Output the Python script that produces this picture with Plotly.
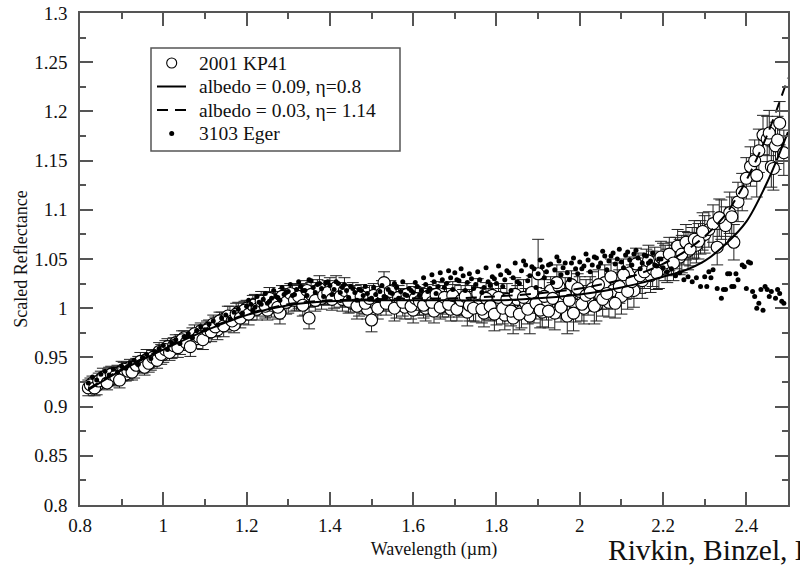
import plotly.graph_objects as go

# ---------------- data ----------------
kp41_wavelength = [
    0.82, 0.83, 0.84, 0.85, 0.86, 0.87, 0.88, 0.89, 0.90, 0.91,
    0.92, 0.93, 0.94, 0.95, 0.96, 0.97, 0.98, 0.99, 1.00, 1.01,
    1.02, 1.03, 1.04, 1.05, 1.06, 1.07, 1.08, 1.09, 1.10, 1.11,
    1.12, 1.13, 1.14, 1.15, 1.16, 1.17, 1.18, 1.19, 1.20, 1.21,
    1.22, 1.23, 1.24, 1.25, 1.26, 1.27, 1.28, 1.29, 1.30, 1.31,
    1.32, 1.33, 1.34, 1.35, 1.36, 1.37, 1.38, 1.39, 1.40, 1.41,
    1.42, 1.43, 1.44, 1.45, 1.46, 1.47, 1.48, 1.49, 1.50, 1.51,
    1.52, 1.53, 1.54, 1.55, 1.56, 1.57, 1.58, 1.59, 1.60, 1.61,
    1.62, 1.63, 1.64, 1.65, 1.66, 1.67, 1.68, 1.69, 1.70, 1.71,
    1.72, 1.73, 1.74, 1.75, 1.76, 1.77, 1.78, 1.79, 1.80, 1.81,
    1.82, 1.83, 1.84, 1.85, 1.86, 1.87, 1.88, 1.89, 1.90, 1.91,
    1.92, 1.93, 1.94, 1.95, 1.96, 1.97, 1.98, 1.99, 2.00, 2.01,
    2.02, 2.03, 2.04, 2.05, 2.06, 2.07, 2.08, 2.09, 2.10, 2.11,
    2.12, 2.13, 2.14, 2.15, 2.16, 2.17, 2.18, 2.19, 2.20, 2.21,
    2.22, 2.23, 2.24, 2.25, 2.26, 2.27, 2.28, 2.29, 2.30, 2.31,
    2.32, 2.33, 2.34, 2.35, 2.36, 2.37, 2.38, 2.39, 2.40, 2.41,
    2.42, 2.43, 2.44, 2.45, 2.46, 2.47, 2.48, 2.49,
    2.335, 2.365, 2.425, 2.455, 2.465, 2.475,
    0.825, 0.835, 0.845, 0.855, 0.865, 0.875, 0.885, 0.895, 0.905, 0.915,
    0.925, 0.935, 0.945, 0.955, 0.965, 0.975, 0.985, 0.995, 1.005, 1.015,
    1.025, 1.035, 1.045, 1.055, 1.065, 1.075, 1.085, 1.095, 1.105, 1.115,
    1.125, 1.135, 1.145, 1.155, 1.165, 1.175, 1.185, 1.195, 1.205, 1.215,
    1.225, 1.235, 1.245, 1.255, 1.265, 1.275, 1.285, 1.295, 1.305, 1.315,
    1.325, 1.335, 1.345, 1.355, 1.365, 1.375, 1.385, 1.395, 1.405, 1.415,
    1.425, 1.435, 1.445, 1.455, 1.465, 1.475, 1.485, 1.495, 1.505, 1.515,
    1.525, 1.535, 1.545, 1.555, 1.565, 1.575, 1.585, 1.595, 1.605, 1.615,
    1.625, 1.635, 1.645, 1.655, 1.665, 1.675, 1.685, 1.695, 1.705, 1.715,
    1.725, 1.735, 1.745, 1.755, 1.765, 1.775, 1.785, 1.795, 1.805, 1.815,
    1.825, 1.835, 1.845, 1.855, 1.865, 1.875, 1.885, 1.895, 1.905, 1.915,
    1.925, 1.935, 1.945, 1.955, 1.965, 1.975, 1.985, 1.995, 2.005, 2.015,
    2.025, 2.035, 2.045, 2.055, 2.065, 2.075, 2.085, 2.095, 2.105, 2.115,
    2.125, 2.135, 2.145, 2.155, 2.165, 2.175, 2.185, 2.195, 2.205, 2.215,
    2.225, 2.235, 2.245, 2.255, 2.265, 2.275, 2.285, 2.295,
]
kp41_reflectance = [
    0.919, 0.924, 0.921, 0.928, 0.926, 0.931, 0.929, 0.934, 0.936, 0.933,
    0.940, 0.938, 0.944, 0.942, 0.948, 0.945, 0.951, 0.956, 0.953, 0.961,
    0.958, 0.965, 0.963, 0.970, 0.966, 0.972, 0.969, 0.977, 0.974, 0.980,
    0.984, 0.978, 0.988, 0.985, 0.991, 0.983, 0.996, 0.993, 1.000, 0.998,
    1.004, 1.001, 1.006, 0.998, 1.003, 1.008, 0.995, 1.010, 1.007, 1.013,
    1.009, 1.015, 1.005, 0.990, 1.012, 1.017, 1.010, 1.014, 1.019, 1.011,
    1.016, 1.009, 1.013, 1.006, 1.011, 1.003, 1.008, 0.999, 0.988, 1.004,
    1.010, 1.026, 1.007, 1.012, 1.003, 1.009, 1.001, 1.006, 0.998, 1.004,
    1.008, 1.000, 1.005, 0.997, 1.009, 1.002, 1.007, 0.999, 1.010, 1.003,
    1.006, 0.996, 1.011, 1.001, 1.008, 0.995, 1.004, 1.013, 0.998, 1.006,
    0.993, 1.002, 0.990, 1.009, 0.997, 1.005, 0.992, 1.001, 1.035, 0.996,
    1.004, 1.018, 0.995, 1.022, 1.006, 0.992, 1.024, 1.003, 1.017, 1.000,
    1.008, 1.020, 1.003, 1.013, 1.026, 1.006, 1.018, 1.030, 1.012, 1.024,
    1.036, 1.018, 1.041, 1.028, 1.044, 1.033, 1.047, 1.038, 1.050, 1.043,
    1.050, 1.056, 1.052, 1.061, 1.058, 1.066, 1.064, 1.072, 1.075, 1.080,
    1.086, 1.062, 1.090, 1.084, 1.097, 1.067, 1.108, 1.118, 1.132, 1.144,
    1.150, 1.160, 1.176, 1.172, 1.144, 1.165, 1.188, 1.158,
    1.092, 1.093, 1.135, 1.178, 1.142, 1.171,
    0.922, 0.919, 0.926, 0.930, 0.924, 0.933, 0.931, 0.927, 0.938, 0.936,
    0.935, 0.942, 0.946, 0.940, 0.944, 0.950, 0.947, 0.953, 0.958, 0.955,
    0.962, 0.960, 0.968, 0.965, 0.961, 0.974, 0.971, 0.968, 0.978, 0.976,
    0.981, 0.987, 0.982, 0.992, 0.987, 0.994, 0.990, 0.998, 0.994, 1.003,
    0.999, 1.007, 1.002, 1.010, 1.005, 1.001, 1.012, 1.006, 1.015, 1.008,
    1.012, 1.003, 1.018, 1.014, 1.008, 1.020, 1.013, 1.016, 1.009, 1.021,
    1.012, 1.018, 1.007, 1.015, 1.002, 1.012, 1.005, 1.010, 1.013, 1.000,
    1.015, 1.005, 1.017, 1.000, 1.011, 1.006, 1.014, 1.002, 1.010, 1.007,
    1.003, 1.012, 1.006, 1.014, 1.001, 1.011, 1.004, 1.013, 0.999, 1.008,
    1.012, 1.003, 1.000, 1.015, 0.999, 1.010, 1.002, 0.994, 1.011, 1.000,
    1.009, 0.997, 1.014, 0.994, 1.011, 0.999, 1.016, 1.005, 0.998, 1.012,
    0.997, 1.010, 1.026, 1.001, 1.014, 1.008, 0.995, 1.020, 1.004, 1.013,
    1.016, 1.002, 1.024, 1.009, 1.015, 1.032, 1.005, 1.022, 1.034, 1.017,
    1.027, 1.045, 1.033, 1.037, 1.048, 1.040, 1.036, 1.052, 1.046, 1.055,
    1.046, 1.063, 1.055, 1.067, 1.060, 1.070, 1.068, 1.078,
]
kp41_error = [
    0.008, 0.007, 0.009, 0.008, 0.007, 0.009, 0.008, 0.008, 0.010, 0.007,
    0.008, 0.009, 0.007, 0.008, 0.010, 0.008, 0.007, 0.009, 0.008, 0.008,
    0.009, 0.008, 0.010, 0.007, 0.009, 0.008, 0.010, 0.008, 0.009, 0.008,
    0.009, 0.010, 0.008, 0.009, 0.011, 0.008, 0.010, 0.009, 0.008, 0.010,
    0.010, 0.009, 0.011, 0.010, 0.012, 0.009, 0.011, 0.010, 0.012, 0.010,
    0.011, 0.010, 0.012, 0.011, 0.010, 0.012, 0.011, 0.010, 0.012, 0.011,
    0.010, 0.012, 0.011, 0.010, 0.012, 0.011, 0.013, 0.010, 0.012, 0.011,
    0.012, 0.011, 0.010, 0.012, 0.013, 0.011, 0.012, 0.010, 0.013, 0.011,
    0.012, 0.013, 0.011, 0.012, 0.014, 0.011, 0.013, 0.012, 0.014, 0.012,
    0.013, 0.014, 0.012, 0.015, 0.013, 0.014, 0.016, 0.012, 0.015, 0.014,
    0.015, 0.013, 0.016, 0.014, 0.017, 0.015, 0.018, 0.016, 0.035, 0.015,
    0.016, 0.014, 0.017, 0.015, 0.016, 0.018, 0.014, 0.017, 0.015, 0.016,
    0.015, 0.017, 0.016, 0.014, 0.018, 0.015, 0.017, 0.016, 0.018, 0.015,
    0.016, 0.017, 0.015, 0.018, 0.016, 0.017, 0.015, 0.018, 0.016, 0.017,
    0.017, 0.016, 0.018, 0.017, 0.019, 0.016, 0.018, 0.017, 0.019, 0.018,
    0.019, 0.018, 0.020, 0.019, 0.021, 0.018, 0.020, 0.019, 0.021, 0.020,
    0.021, 0.022, 0.020, 0.023, 0.021, 0.024, 0.022, 0.023,
    0.019, 0.020, 0.022, 0.023, 0.022, 0.024,
    0.007, 0.008, 0.008, 0.009, 0.007, 0.008, 0.009, 0.008, 0.007, 0.009,
    0.008, 0.007, 0.009, 0.008, 0.009, 0.007, 0.008, 0.010, 0.009, 0.008,
    0.008, 0.010, 0.009, 0.008, 0.010, 0.009, 0.008, 0.010, 0.009, 0.010,
    0.010, 0.009, 0.011, 0.010, 0.009, 0.011, 0.010, 0.009, 0.011, 0.010,
    0.011, 0.010, 0.012, 0.011, 0.010, 0.012, 0.011, 0.012, 0.010, 0.011,
    0.012, 0.011, 0.010, 0.012, 0.011, 0.013, 0.010, 0.012, 0.011, 0.012,
    0.011, 0.013, 0.012, 0.011, 0.013, 0.012, 0.011, 0.013, 0.012, 0.011,
    0.013, 0.012, 0.011, 0.013, 0.012, 0.014, 0.011, 0.013, 0.012, 0.014,
    0.013, 0.012, 0.014, 0.013, 0.012, 0.015, 0.013, 0.014, 0.012, 0.015,
    0.014, 0.016, 0.013, 0.015, 0.014, 0.016, 0.015, 0.017, 0.014, 0.016,
    0.016, 0.015, 0.017, 0.016, 0.018, 0.015, 0.017, 0.016, 0.018, 0.017,
    0.017, 0.016, 0.018, 0.015, 0.017, 0.016, 0.018, 0.015, 0.017, 0.016,
    0.016, 0.018, 0.015, 0.017, 0.016, 0.018, 0.015, 0.017, 0.016, 0.018,
    0.017, 0.016, 0.018, 0.017, 0.016, 0.018, 0.017, 0.016, 0.018, 0.017,
    0.018, 0.017, 0.019, 0.018, 0.017, 0.019, 0.018, 0.019,
]

eger_wavelength = [
    0.82, 0.83, 0.84, 0.85, 0.86, 0.87, 0.88, 0.89, 0.90, 0.91,
    0.92, 0.93, 0.94, 0.95, 0.96, 0.97, 0.98, 0.99, 1.00, 1.01,
    1.02, 1.03, 1.04, 1.05, 1.06, 1.07, 1.08, 1.09, 1.10, 1.11,
    1.12, 1.13, 1.14, 1.15, 1.16, 1.17, 1.18, 1.19, 1.20, 1.21,
    1.22, 1.23, 1.24, 1.25, 1.26, 1.27, 1.28, 1.29, 1.30, 1.31,
    1.32, 1.33, 1.34, 1.35, 1.36, 1.37, 1.38, 1.39, 1.40, 1.41,
    1.42, 1.43, 1.44, 1.45, 1.46, 1.47, 1.48, 1.49, 1.50, 1.51,
    1.52, 1.53, 1.54, 1.55, 1.56, 1.57, 1.58, 1.59, 1.60, 1.61,
    1.62, 1.63, 1.64, 1.65, 1.66, 1.67, 1.68, 1.69, 1.70, 1.71,
    1.72, 1.73, 1.74, 1.75, 1.76, 1.77, 1.78, 1.79, 1.80, 1.81,
    1.82, 1.83, 1.84, 1.85, 1.86, 1.87, 1.88, 1.89, 1.90, 1.91,
    1.92, 1.93, 1.94, 1.95, 1.96, 1.97, 1.98, 1.99, 2.00, 2.01,
    2.02, 2.03, 2.04, 2.05, 2.06, 2.07, 2.08, 2.09, 2.10, 2.11,
    2.12, 2.13, 2.14, 2.15, 2.16, 2.17, 2.18, 2.19, 2.20, 2.21,
    2.22, 2.23, 2.24, 2.25, 2.26, 2.27, 2.28, 2.29, 2.30, 2.31,
    2.32, 2.33, 2.34, 2.35, 2.36, 2.37, 2.38, 2.39, 2.40, 2.41,
    2.42, 2.43, 2.44, 2.45, 2.46, 2.47, 2.48, 2.49,
    2.305, 2.315, 2.345, 2.355, 2.365, 2.375, 2.395, 2.405, 2.415,
    2.425, 2.435, 2.445, 2.455, 2.475, 2.485,
    1.205, 1.215, 1.225, 1.235, 1.245, 1.255, 1.265, 1.275, 1.285, 1.295,
    1.305, 1.315, 1.325, 1.335, 1.345, 1.355, 1.365, 1.375, 1.385, 1.395,
    1.405, 1.415, 1.425, 1.435, 1.445, 1.455, 1.465, 1.475, 1.485, 1.495,
    1.505, 1.515, 1.525, 1.535, 1.545, 1.555, 1.565, 1.575, 1.585, 1.595,
    1.605, 1.615, 1.625, 1.635, 1.645, 1.655, 1.665, 1.675, 1.685, 1.695,
    1.705, 1.715, 1.725, 1.735, 1.745, 1.755, 1.765, 1.775, 1.785, 1.795,
    1.805, 1.815, 1.825, 1.835, 1.845, 1.855, 1.865, 1.875, 1.885, 1.895,
    1.905, 1.915, 1.925, 1.935, 1.945, 1.955, 1.965, 1.975, 1.985, 1.995,
    2.005, 2.015, 2.025, 2.035, 2.045, 2.055, 2.065, 2.075, 2.085, 2.095,
    2.105, 2.115, 2.125, 2.135, 2.145, 2.155, 2.165, 2.175, 2.185, 2.195,
]
eger_reflectance = [
    0.924, 0.930, 0.927, 0.933, 0.936, 0.932, 0.938, 0.935, 0.941, 0.939,
    0.944, 0.947, 0.943, 0.950, 0.953, 0.949, 0.956, 0.959, 0.962, 0.958,
    0.965, 0.968, 0.964, 0.971, 0.974, 0.970, 0.977, 0.981, 0.978, 0.984,
    0.987, 0.983, 0.990, 0.993, 0.989, 0.996, 0.999, 0.995, 1.002, 1.004,
    1.001, 1.006, 1.009, 1.005, 1.010, 1.012, 1.008, 1.014, 1.017, 1.013,
    1.019, 1.022, 1.018, 1.029, 1.021, 1.024, 1.020, 1.026, 1.023, 1.019,
    1.025, 1.021, 1.018, 1.022, 1.016, 1.019, 1.013, 1.015, 1.010, 1.014,
    1.017, 1.012, 1.019, 1.015, 1.021, 1.017, 1.014, 1.020, 1.016, 1.022,
    1.018, 1.024, 1.020, 1.027, 1.022, 1.029, 1.025, 1.031, 1.036, 1.028,
    1.033, 1.026, 1.030, 1.024, 1.029, 1.021, 1.027, 1.032, 1.025, 1.034,
    1.029, 1.036, 1.031, 1.027, 1.038, 1.044, 1.033, 1.040, 1.035, 1.042,
    1.037, 1.045, 1.039, 1.048, 1.041, 1.036, 1.046, 1.040, 1.047, 1.043,
    1.049, 1.044, 1.051, 1.046, 1.053, 1.048, 1.056, 1.050, 1.047, 1.054,
    1.049, 1.055, 1.051, 1.046, 1.053, 1.048, 1.044, 1.050, 1.041, 1.037,
    1.040, 1.033, 1.036, 1.029, 1.032, 1.027, 1.031, 1.022, 1.032, 1.037,
    1.039, 1.020, 1.010, 1.019, 1.035, 1.022, 1.029, 1.044, 1.020, 1.046,
    1.012, 1.005, 0.998, 1.019, 1.017, 1.010, 1.015, 1.005,
    1.022, 1.031, 1.019, 1.035, 1.022, 1.035, 1.042, 1.047, 1.017,
    1.000, 1.019, 1.022, 1.012, 1.019, 1.007,
    1.008, 0.998, 1.012, 1.004, 1.015, 1.007, 1.018, 1.011, 1.021, 1.016,
    1.024, 1.014, 1.027, 1.018, 1.013, 1.028, 1.016, 1.025, 1.012, 1.027,
    1.014, 1.027, 1.016, 1.024, 1.011, 1.020, 1.008, 1.018, 1.022, 1.009,
    1.021, 1.008, 1.023, 1.011, 1.016, 1.025, 1.010, 1.027, 1.013, 1.018,
    1.026, 1.013, 1.031, 1.017, 1.034, 1.015, 1.036, 1.021, 1.038, 1.019,
    1.029, 1.040, 1.018, 1.035, 1.020, 1.037, 1.016, 1.041, 1.023, 1.030,
    1.043, 1.022, 1.038, 1.018, 1.046, 1.025, 1.048, 1.028, 1.042, 1.021,
    1.049, 1.031, 1.044, 1.026, 1.052, 1.034, 1.046, 1.029, 1.051, 1.035,
    1.040, 1.055, 1.037, 1.052, 1.042, 1.058, 1.039, 1.053, 1.045, 1.060,
    1.041, 1.057, 1.044, 1.059, 1.040, 1.054, 1.046, 1.056, 1.043, 1.050,
]

model_wavelength = [0.82, 0.90, 1.00, 1.10, 1.20, 1.30, 1.40, 1.50, 1.60, 1.70, 1.80,
                    1.90, 2.00, 2.05, 2.10, 2.15, 2.20, 2.25, 2.30, 2.35, 2.40, 2.45, 2.50]
model_albedo_009 = [0.917, 0.937, 0.958, 0.977, 0.993, 1.003, 1.007, 1.008, 1.008, 1.008, 1.008,
                    1.010, 1.014, 1.017, 1.021, 1.026, 1.032, 1.038, 1.048, 1.065, 1.088, 1.128, 1.179]
model_albedo_003 = [0.918, 0.938, 0.959, 0.978, 0.994, 1.004, 1.008, 1.009, 1.010, 1.010, 1.012,
                    1.015, 1.020, 1.024, 1.029, 1.036, 1.045, 1.057, 1.073, 1.095, 1.130, 1.176, 1.234]

x_tick_values = [0.8, 1.0, 1.2, 1.4, 1.6, 1.8, 2.0, 2.2, 2.4]
x_tick_labels = ["0.8", "1", "1.2", "1.4", "1.6", "1.8", "2", "2.2", "2.4"]
y_tick_values = [0.8, 0.85, 0.9, 0.95, 1.0, 1.05, 1.1, 1.15, 1.2, 1.25, 1.3]
y_tick_labels = ["0.8", "0.85", "0.9", "0.95", "1", "1.05", "1.1", "1.15", "1.2", "1.25", "1.3"]

legend_labels = ["2001 KP41", "albedo = 0.09, η=0.8", "albedo = 0.03, η= 1.14", "3103 Eger"]

# ---------------- figure ----------------
FONT = "Liberation Serif"
AX = "#555555"
TXT = "#111111"
W, H = 800, 573
ML, MR, MT, MB = 80, 12, 13, 68
PW, PH = W - ML - MR, H - MT - MB


def px2paper(px, py):
    return (px - ML) / PW, (H - MB - py) / PH


fig = go.Figure()

fig.add_trace(go.Scatter(
    x=kp41_wavelength, y=kp41_reflectance, mode="markers", name=legend_labels[0],
    marker=dict(symbol="circle", size=12, color="white", line=dict(color="black", width=1.1)),
    error_y=dict(type="data", array=kp41_error, visible=True, color="#222222", thickness=1, width=6),
    showlegend=False,
))
fig.add_trace(go.Scatter(
    x=model_wavelength, y=model_albedo_009, mode="lines", name=legend_labels[1],
    line=dict(color="black", width=2, shape="spline", smoothing=0.8), showlegend=False,
))
fig.add_trace(go.Scatter(
    x=model_wavelength, y=model_albedo_003, mode="lines", name=legend_labels[2],
    line=dict(color="black", width=2, dash="11px,7px", shape="spline", smoothing=0.8), showlegend=False,
))
fig.add_trace(go.Scatter(
    x=eger_wavelength, y=eger_reflectance, mode="markers", name=legend_labels[3],
    marker=dict(symbol="circle", size=5, color="black"), showlegend=False,
))

axis_common = dict(
    showgrid=False, zeroline=False, showline=True, linecolor=AX, linewidth=1.5,
    ticks="inside", ticklen=13, tickwidth=1.5, tickcolor=AX, mirror="ticks",
    tickfont=dict(family=FONT, size=19, color=TXT), automargin=False,
)

fig.update_layout(
    width=W, height=H, autosize=False,
    margin=dict(l=ML, r=MR, t=MT, b=MB, autoexpand=False),
    paper_bgcolor="white", plot_bgcolor="white",
    font=dict(family=FONT, color=TXT),
    showlegend=False,
    xaxis=dict(
        range=[0.8, 2.5], tickmode="array", tickvals=x_tick_values, ticktext=x_tick_labels,
        minor=dict(ticks="inside", ticklen=6, tickwidth=1.5, tickcolor=AX, dtick=0.1, tick0=0.8),
        title=dict(text="Wavelength (µm)", font=dict(family=FONT, size=18, color=TXT), standoff=8),
        ticklabelstandoff=2,
        **axis_common,
    ),
    yaxis=dict(
        range=[0.8, 1.3], tickmode="array", tickvals=y_tick_values, ticktext=y_tick_labels,
        minor=dict(ticks="inside", ticklen=6, tickwidth=1.5, tickcolor=AX, dtick=0.025, tick0=0.8),
        title=dict(text="Scaled Reflectance", font=dict(family=FONT, size=18, color=TXT), standoff=2),
        ticklabelstandoff=7,
        **axis_common,
    ),
)

# ---------------- legend box drawn to match the reference layout ----------------
bx0, by0 = px2paper(151, 48)
bx1, by1 = px2paper(400, 151)
shapes = [dict(type="rect", xref="paper", yref="paper", x0=bx0, y0=by1, x1=bx1, y1=by0,
               line=dict(color=AX, width=1.5), fillcolor="white", layer="above")]

rows_y = [63, 86.5, 110, 133.5]
sym_x = 171.7
cx, cy = px2paper(sym_x, rows_y[0])
shapes.append(dict(type="circle", xref="paper", yref="paper", xsizemode="pixel", ysizemode="pixel",
                   xanchor=cx, yanchor=cy, x0=-5, x1=5, y0=-5, y1=5,
                   line=dict(color="black", width=1.1), fillcolor="white", layer="above"))
lx0, ly = px2paper(157, rows_y[1])
lx1, _ = px2paper(186, rows_y[1])
shapes.append(dict(type="line", xref="paper", yref="paper", x0=lx0, x1=lx1, y0=ly, y1=ly,
                   line=dict(color="black", width=2), layer="above"))
lx0, ly = px2paper(157, rows_y[2])
shapes.append(dict(type="line", xref="paper", yref="paper", x0=lx0, x1=lx1, y0=ly, y1=ly,
                   line=dict(color="black", width=2, dash="11px,7px"), layer="above"))
dx, dy = px2paper(sym_x, rows_y[3])
shapes.append(dict(type="circle", xref="paper", yref="paper", xsizemode="pixel", ysizemode="pixel",
                   xanchor=dx, yanchor=dy, x0=-2.5, x1=2.5, y0=-2.5, y1=2.5,
                   line=dict(color="black", width=0), fillcolor="black", layer="above"))
fig.update_layout(shapes=shapes)

annotations = []
tx, _ = px2paper(197, 0)
for label, ry in zip(legend_labels, rows_y):
    _, ty = px2paper(0, ry)
    annotations.append(dict(text=label, xref="paper", yref="paper", x=tx, y=ty,
                            xanchor="left", yanchor="middle", showarrow=False,
                            font=dict(family=FONT, size=19.5, color=TXT)))

rx, ry = px2paper(606, 550)
annotations.append(dict(text="Rivkin, Binzel, Bus (2005)", xref="paper", yref="paper", x=rx, y=ry,
                        xanchor="left", yanchor="middle", showarrow=False,
                        font=dict(family=FONT, size=29.5, color=TXT)))
fig.update_layout(annotations=annotations)

# the page body has a default 8px margin; remove it so the figure fills the window exactly
fig.write_html(
    "out.html",
    config={"displayModeBar": False},
    post_script="document.body.style.margin='0';document.body.style.overflow='hidden';",
)
